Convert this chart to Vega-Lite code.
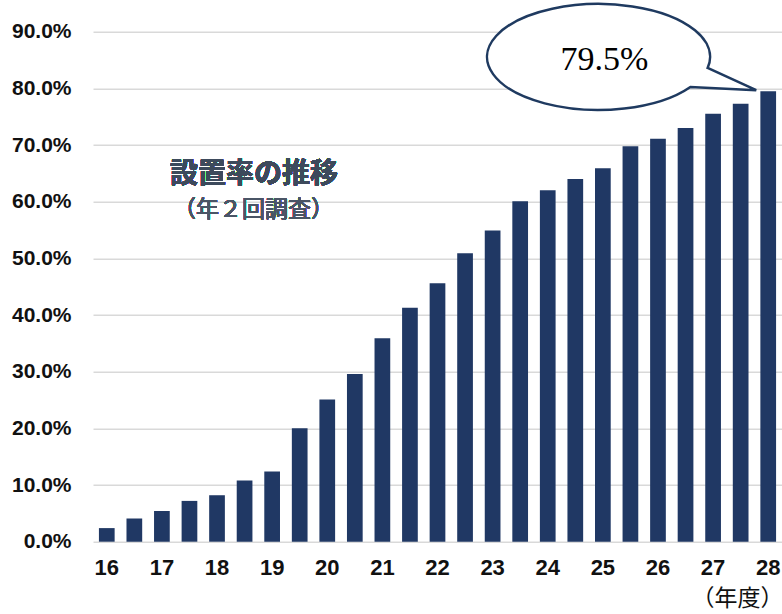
{
  "$schema": "https://vega.github.io/schema/vega-lite/v6.json",
  "autosize": {"type": "none"},
  "width": 689,
  "height": 510,
  "padding": {"left": 93, "top": 31.7, "right": 0, "bottom": 72.3},
  "background": "white",
  "config": {"view": {"stroke": null}},
  "data": {"values": [
    {"period": "16-1", "rate": 0.024},
    {"period": "16-2", "rate": 0.041},
    {"period": "17-1", "rate": 0.054},
    {"period": "17-2", "rate": 0.072},
    {"period": "18-1", "rate": 0.082},
    {"period": "18-2", "rate": 0.108},
    {"period": "19-1", "rate": 0.124},
    {"period": "19-2", "rate": 0.200},
    {"period": "20-1", "rate": 0.251},
    {"period": "20-2", "rate": 0.296},
    {"period": "21-1", "rate": 0.359},
    {"period": "21-2", "rate": 0.413},
    {"period": "22-1", "rate": 0.456},
    {"period": "22-2", "rate": 0.509},
    {"period": "23-1", "rate": 0.549},
    {"period": "23-2", "rate": 0.601},
    {"period": "24-1", "rate": 0.620},
    {"period": "24-2", "rate": 0.640},
    {"period": "25-1", "rate": 0.659},
    {"period": "25-2", "rate": 0.698},
    {"period": "26-1", "rate": 0.711},
    {"period": "26-2", "rate": 0.730},
    {"period": "27-1", "rate": 0.755},
    {"period": "27-2", "rate": 0.773},
    {"period": "28-1", "rate": 0.795}
  ]},
  "encoding": {
    "x": {
      "field": "period", "type": "nominal", "sort": null,
      "scale": {"paddingInner": 0.43, "paddingOuter": 0.215},
      "axis": {
        "title": "（年度）",
        "titleFont": "Noto Sans CJK JP", "titleFontSize": 23, "titleFontWeight": "normal", "titleColor": "#111111",
        "titleAlign": "right", "titleAnchor": null, "titleX": 690, "titleY": 57, "titleBaseline": "middle",
        "labelAngle": 0, "labelFont": "Liberation Sans", "labelFontSize": 22, "labelFontWeight": "bold", "labelColor": "#111111",
        "labelPadding": 16, "labelBaseline": "top",
        "labelExpr": "slice(datum.value, 3) == '1' ? slice(datum.value, 0, 2) : ''",
        "ticks": false, "domain": false, "grid": false
      }
    },
    "y": {
      "field": "rate", "type": "quantitative",
      "scale": {"domain": [0, 0.9], "nice": false},
      "axis": {
        "title": null, "format": ".1%",
        "values": [0, 0.1, 0.2, 0.3, 0.4, 0.5, 0.6, 0.7, 0.8, 0.9],
        "labelFont": "Liberation Sans", "labelFontSize": 21, "labelFontWeight": "bold", "labelColor": "#111111",
        "labelPadding": 22, "ticks": false, "domain": false,
        "grid": true, "gridColor": "#d9d9d9", "gridWidth": 1.5
      }
    }
  },
  "layer": [
    {"mark": {"type": "bar", "color": "#203864"}},
    {
      "transform": [{"filter": "datum.period == '28-1'"}],
      "mark": {
        "type": "point",
        "shape": "M -0.606 -0.232 A 1.115 0.53 0 1 0 -0.778 -0.042 L -0.12 -0.01 Z",
        "size": 40000, "filled": true, "fill": "white", "stroke": "#1f3a60", "strokeWidth": 2.5, "opacity": 1
      }
    },
    {
      "transform": [{"filter": "datum.period == '28-1'"}],
      "mark": {"type": "text", "font": "Liberation Serif", "fontSize": 34, "color": "#000000", "align": "center", "baseline": "middle", "dx": -163.7, "dy": -31.7},
      "encoding": {"text": {"field": "rate", "format": ".1%"}}
    },
    {
      "mark": {"type": "text", "font": "Noto Sans CJK JP", "fontSize": 28, "fontWeight": "bold", "color": "#3d4a5c", "align": "center", "baseline": "middle", "dx": 9.5, "dy": 2},
      "encoding": {"x": {"datum": "18-2"}, "y": {"datum": 0.6506}, "text": {"value": "設置率の推移"}}
    },
    {
      "mark": {"type": "text", "font": "Noto Sans CJK JP", "fontSize": 23, "fontWeight": "normal", "color": "#4a5566", "align": "center", "baseline": "middle", "dx": 9},
      "encoding": {"x": {"datum": "18-2"}, "y": {"datum": 0.585}, "text": {"value": "（年２回調査）"}}
    }
  ]
}
